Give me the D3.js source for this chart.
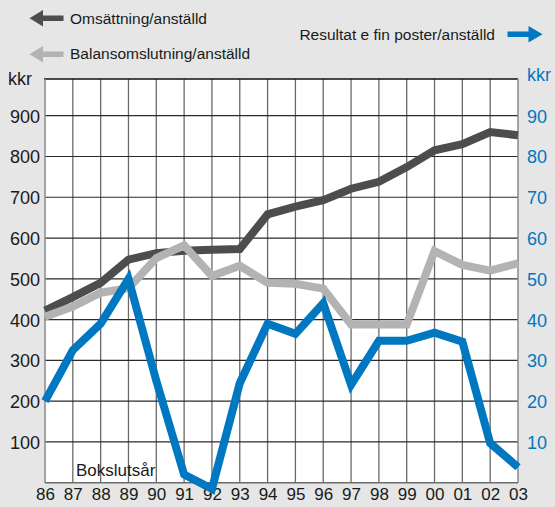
<!DOCTYPE html>
<html><head><meta charset="utf-8">
<script src="https://cdn.jsdelivr.net/npm/d3@7"></script>
<style>
html,body{margin:0;padding:0;background:#e6e6e6;}
svg{display:block;font-family:"Liberation Sans",Arial,Helvetica,sans-serif;}
</style></head>
<body>
<svg id="c" width="555" height="507"></svg>
<script>
// ---- data ----
const years = ["86","87","88","89","90","91","92","93","94","95","96","97","98","99","00","01","02","03"];
const omsattning = [422, 455, 490, 547, 563, 569, 571, 573, 658, 677, 693, 721, 738, 774, 815, 830, 860, 852];
const balans = [407, 432, 466, 477, 551, 582, 507, 532, 490, 488, 476, 388, 388, 388, 568, 534, 520, 538];
const resultat = [20, 32.5, 39, 50, 25, 2, -1.5, 24.4, 39, 36.5, 44, 24, 34.8, 34.8, 36.8, 34.6, 9.7, 3.8];
const leftTicks = [100, 200, 300, 400, 500, 600, 700, 800, 900];
const rightTicks = [10, 20, 30, 40, 50, 60, 70, 80, 90];
const seriesNames = ["Omsättning/anställd", "Balansomslutning/anställd", "Resultat e fin poster/anställd"];

const C_DARK = "#4d4d4d", C_LIGHT = "#b3b3b3", C_BLUE = "#0077c1";
const svg = d3.select("#c");
const L = 45, R = 518, T = 79, B = 482.7;

const x = d3.scalePoint().domain(years).range([L, R]);
const yL = d3.scaleLinear().domain([0, 990]).range([B, T]);
const yR = d3.scaleLinear().domain([0, 99]).range([B, T]);

// plot background
svg.append("rect").attr("x", L).attr("y", T).attr("width", R - L).attr("height", B - T).attr("fill", "#fff");

// vertical grid
svg.append("g").selectAll("line").data(years.slice(1, -1)).join("line")
  .attr("x1", d => x(d)).attr("x2", d => x(d)).attr("y1", T).attr("y2", B)
  .attr("stroke", "#6a6a6a").attr("stroke-width", 1.3);
// horizontal grid
svg.append("g").selectAll("line").data(leftTicks).join("line")
  .attr("x1", L).attr("x2", R).attr("y1", d => yL(d)).attr("y2", d => yL(d))
  .attr("stroke", "#2a2a2a").attr("stroke-width", 1.2);

// frame
svg.append("line").attr("x1", L - 1).attr("x2", R).attr("y1", T).attr("y2", T).attr("stroke", "#111").attr("stroke-width", 1.3);
svg.append("line").attr("x1", L).attr("x2", L).attr("y1", T).attr("y2", B).attr("stroke", "#8a8a8a").attr("stroke-width", 1.5);
svg.append("line").attr("x1", R).attr("x2", R).attr("y1", T).attr("y2", B).attr("stroke", "#8a8a8a").attr("stroke-width", 1.5);
svg.append("line").attr("x1", L).attr("x2", R).attr("y1", B).attr("y2", B).attr("stroke", "#6a6a6a").attr("stroke-width", 1.5);

// axes (labels)
const axL = svg.append("g").attr("transform", `translate(${L - 5},0)`)
  .call(d3.axisLeft(yL).tickValues(leftTicks).tickSize(0).tickPadding(0));
axL.select(".domain").remove();
axL.selectAll("text").attr("font-size", 18).attr("fill", "#1a1a1a").attr("font-family", "Liberation Sans, Arial, sans-serif").attr("dy", "0.36em");

const axR = svg.append("g").attr("transform", `translate(${R + 9},0)`)
  .call(d3.axisRight(yR).tickValues(rightTicks).tickSize(0).tickPadding(0));
axR.select(".domain").remove();
axR.selectAll("text").attr("font-size", 18).attr("fill", C_BLUE).attr("font-family", "Liberation Sans, Arial, sans-serif").attr("dy", "0.36em");

const axB = svg.append("g").attr("transform", `translate(0,${B})`)
  .call(d3.axisBottom(x).tickSize(0).tickPadding(0));
axB.select(".domain").remove();
axB.selectAll("text").attr("font-size", 17).attr("fill", "#1a1a1a").attr("font-family", "Liberation Sans, Arial, sans-serif").attr("dy", "17");

// unit labels
svg.append("text").attr("x", 8).attr("y", 85).attr("font-size", 18).attr("fill", "#1a1a1a").text("kkr");
svg.append("text").attr("x", 527).attr("y", 81).attr("font-size", 18).attr("fill", C_BLUE).text("kkr");
svg.append("text").attr("x", 76).attr("y", 476).attr("font-size", 17).attr("fill", "#1a1a1a").text("Bokslutsår");

// lines
const lineL = d3.line().x((d, i) => x(years[i])).y(d => yL(d));
const lineR = d3.line().x((d, i) => x(years[i])).y(d => yR(d));
function draw(path, data, gen, color) {
  svg.append("path").datum(data).attr("d", gen).attr("fill", "none")
    .attr("stroke", color).attr("stroke-width", 8).attr("stroke-linejoin", "miter").attr("stroke-linecap", "butt");
}
draw("d", omsattning, lineL, C_DARK);
draw("b", balans, lineL, C_LIGHT);
draw("r", resultat, lineR, C_BLUE);

// legend
function arrow(xTip, xBase, xEnd, yc, color) {
  // direction determined by tip relative to base
  const s = Math.sign(xBase - xTip);
  const pts = [[xTip, yc], [xBase, yc - 8.3], [xBase, yc - 2.7], [xEnd, yc - 2.7], [xEnd, yc + 2.7], [xBase, yc + 2.7], [xBase, yc + 8.3]];
  svg.append("path").attr("d", d3.line()(pts) + "Z").attr("fill", color);
}
arrow(29.5, 43, 63.5, 18.3, C_DARK);
arrow(29.5, 43, 63.5, 54.3, C_LIGHT);
arrow(542.5, 528.5, 507.5, 34.2, C_BLUE);

svg.append("text").attr("x", 70).attr("y", 23.5).attr("font-size", 15.5).attr("fill", "#1a1a1a").text(seriesNames[0]);
svg.append("text").attr("x", 70).attr("y", 59).attr("font-size", 15.5).attr("fill", "#1a1a1a").text(seriesNames[1]);
svg.append("text").attr("x", 495).attr("y", 40).attr("font-size", 15.5).attr("fill", "#1a1a1a").attr("text-anchor", "end").text(seriesNames[2]);
</script>
</body></html>
